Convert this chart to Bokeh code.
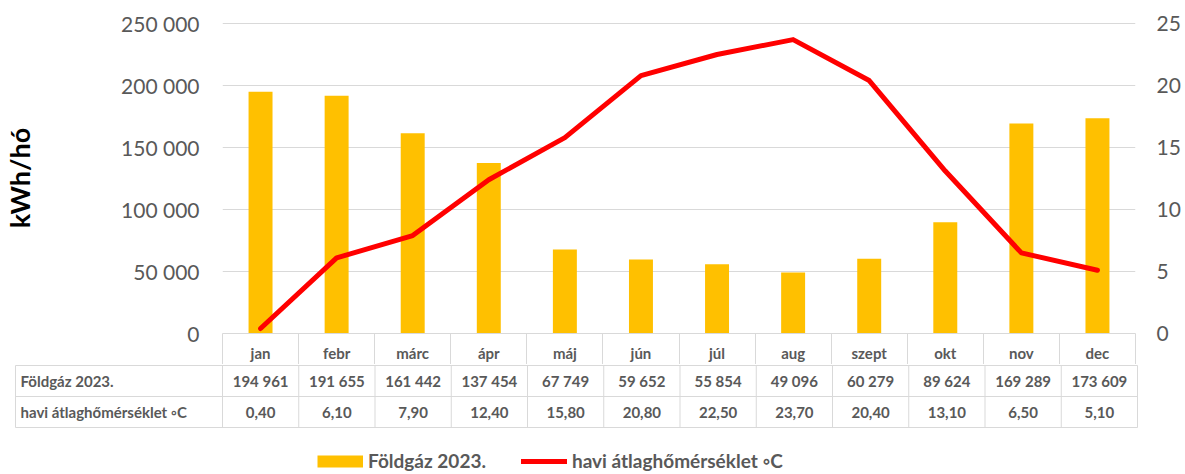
from bokeh.plotting import figure
from bokeh.models import Range1d, LinearAxis, FixedTicker, Legend, LegendItem
from bokeh.layouts import column
from bokeh.core.properties import value
from bokeh.embed import file_html
from bokeh.resources import INLINE

# ---- data ----
months = ["jan", "febr", "márc", "ápr", "máj", "jún", "júl", "aug", "szept", "okt", "nov", "dec"]
gas = [194961, 191655, 161442, 137454, 67749, 59652, 55854, 49096, 60279, 89624, 169289, 173609]
temp = [0.40, 6.10, 7.90, 12.40, 15.80, 20.80, 22.50, 23.70, 20.40, 13.10, 6.50, 5.10]
gas_ticks = [0, 50000, 100000, 150000, 200000, 250000]
gas_tick_labels = ["0", "50 000", "100 000", "150 000", "200 000", "250 000"]
temp_ticks = [0, 5, 10, 15, 20, 25]
series_names = ["Földgáz 2023.", "havi átlaghőmérséklet ◦C"]
y_label = "kWh/hó"

# ---- style ----
FONT = "Lato"
TXT = "#595959"
GRID = "#D9D9D9"
BAR = "#FFC000"
RED = "#FF0000"

W = 1183
H_TOP = 364
H_BOT = 108
COL = 76.25  # px per month column

idx = list(range(len(months)))
gas_labels = [f"{v:,}".replace(",", " ") for v in gas]
temp_labels = [f"{t:.2f}".replace(".", ",") for t in temp]

# ---- top chart ----
p = figure(width=W, height=H_TOP, title=None,
           x_range=Range1d(-0.5, len(months) - 0.5),
           y_range=Range1d(0, gas_ticks[-1] * 311 / 310),
           output_backend="svg", toolbar_location=None,
           min_border_left=222, min_border_right=W - 1137, min_border_top=22, min_border_bottom=31,
           outline_line_color=None, frame_align=False)
p.extra_y_ranges = {"temp": Range1d(0, temp_ticks[-1] * 311 / 310)}

p.xgrid.visible = False
p.ygrid.ticker = FixedTicker(ticks=gas_ticks)
p.ygrid.grid_line_color = GRID
p.ygrid.grid_line_width = 1

ya = p.yaxis[0]
ya.ticker = FixedTicker(ticks=gas_ticks)
ya.major_label_overrides = dict(zip(gas_ticks, gas_tick_labels))
ya.axis_line_color = None
ya.major_tick_line_color = None
ya.minor_tick_line_color = None
ya.major_tick_out = 0
ya.major_tick_in = 0
ya.minor_tick_out = 0
ya.minor_tick_in = 0
ya.major_label_standoff = 23
ya.major_label_text_font = FONT
ya.major_label_text_font_size = "21px"
ya.major_label_text_color = TXT
ya.axis_label = y_label
ya.axis_label_text_font = FONT
ya.axis_label_text_font_size = "27px"
ya.axis_label_text_font_style = "bold"
ya.axis_label_text_color = "#000000"
ya.axis_label_standoff = 82

ra = LinearAxis(y_range_name="temp", ticker=FixedTicker(ticks=temp_ticks))
ra.axis_line_color = None
ra.major_tick_line_color = None
ra.minor_tick_line_color = None
ra.major_tick_out = 0
ra.major_tick_in = 0
ra.minor_tick_out = 0
ra.minor_tick_in = 0
ra.major_label_standoff = 21
ra.major_label_text_font = FONT
ra.major_label_text_font_size = "21px"
ra.major_label_text_color = TXT
p.add_layout(ra, "right")

xa = p.xaxis[0]
xa.ticker = FixedTicker(ticks=idx, minor_ticks=[i - 0.5 for i in range(len(months) + 1)])
xa.major_label_overrides = {i: m for i, m in zip(idx, months)}
xa.major_tick_out = 0
xa.major_tick_in = 0
xa.major_tick_line_color = None
xa.minor_tick_in = 0
xa.minor_tick_out = 31
xa.minor_tick_line_color = GRID
xa.axis_line_color = GRID
xa.major_label_standoff = -21
xa.major_label_text_font = FONT
xa.major_label_text_font_size = "15px"
xa.major_label_text_font_style = "bold"
xa.major_label_text_color = TXT

p.vbar(x=idx, top=gas, width=0.315, fill_color=BAR, line_color=None)
p.line(x=idx, y=temp, y_range_name="temp", line_color=RED, line_width=5,
       line_cap="round", line_join="round")

# ---- bottom table + legend ----
L = 207 / COL
left = -0.5 - L
right = len(months) - 0.5
p2 = figure(width=W, height=H_BOT, title=None,
            x_range=Range1d(left - 1 / COL, right + 1 / COL),
            y_range=Range1d(-45 / 31, 2 + 1 / 31),
            output_backend="svg", toolbar_location=None,
            x_axis_location=None, y_axis_location=None,
            min_border_left=14, min_border_right=W - 1138, min_border_top=0, min_border_bottom=0,
            outline_line_color=None, frame_align=False)
p2.grid.visible = False
# off-screen range, used only so the legend samples have data to draw from
p2.extra_y_ranges = {"legend_only": Range1d(1e9, 2e9)}

rows_y = [0, 1, 2]
p2.segment(x0=[left] * 3, x1=[right] * 3, y0=rows_y, y1=rows_y, line_color=GRID, line_width=1)
xs = [left] + [i - 0.5 for i in range(len(months) + 1)]
p2.segment(x0=xs, x1=xs, y0=[0] * len(xs), y1=[2] * len(xs), line_color=GRID, line_width=1)

common = dict(text_font=value(FONT), text_font_size="15px", text_font_style="bold",
              text_color=TXT, text_baseline="middle")
p2.text(x=idx, y=[1.5] * len(idx), text=gas_labels, text_align="center", **common)
p2.text(x=idx, y=[0.5] * len(idx), text=temp_labels, text_align="center", **common)
p2.text(x=[left + 5 / COL] * 2, y=[1.5, 0.5], text=series_names, text_align="left", **common)

r1 = p2.line(x=idx, y=gas, y_range_name="legend_only", line_color=BAR, line_width=12, line_cap="butt")
r2 = p2.line(x=idx, y=temp, y_range_name="legend_only", line_color=RED, line_width=5, line_cap="round")
legend = Legend(items=[LegendItem(label=series_names[0], renderers=[r1]),
                       LegendItem(label=series_names[1], renderers=[r2])],
                orientation="horizontal", location=(303, 0),
                glyph_width=46, glyph_height=20, label_standoff=5, spacing=35,
                padding=0, margin=0, border_line_color=None, background_fill_alpha=0,
                label_text_font=FONT, label_text_font_size="19px",
                label_text_font_style="bold", label_text_color=TXT,
                label_text_baseline="middle")
p2.add_layout(legend)

layout = column(p, p2)
open("out.html", "w").write(file_html(layout, INLINE))
